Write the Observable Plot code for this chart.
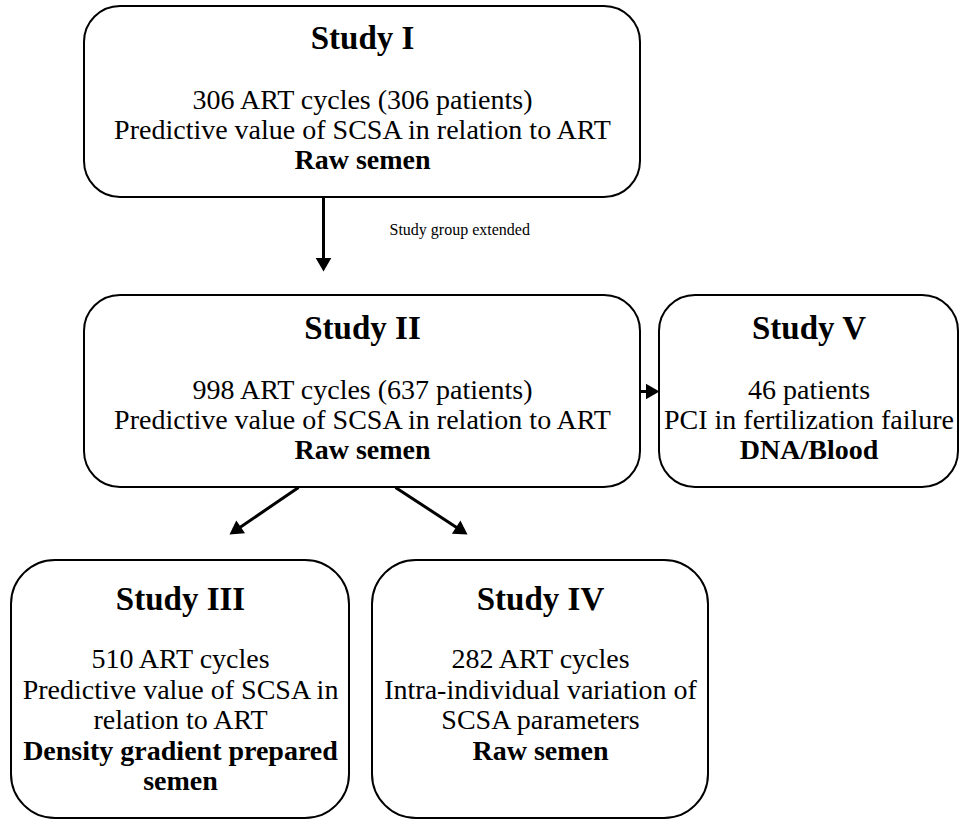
<!DOCTYPE html>
<html>
<head>
<meta charset="utf-8">
<script src="https://cdn.jsdelivr.net/npm/d3@7"></script>
<script src="https://cdn.jsdelivr.net/npm/@observablehq/plot@0.6"></script>
<style>
  html, body { margin: 0; padding: 0; background: #ffffff; }
  #chart svg { display: block; }
</style>
</head>
<body>
<div id="chart"></div>
<script>
// ---------- DATA (content only) ----------
const studies = ["Study I", "Study II", "Study III", "Study IV", "Study V"];
const detailLines = [
  ["306 ART cycles (306 patients)", "Predictive value of SCSA in relation to ART"],
  ["998 ART cycles (637 patients)", "Predictive value of SCSA in relation to ART"],
  ["510 ART cycles", "Predictive value of SCSA in", "relation to ART"],
  ["282 ART cycles", "Intra-individual variation of", "SCSA parameters"],
  ["46 patients", "PCI in fertilization failure"]
];
const materialLines = [
  ["Raw semen"],
  ["Raw semen"],
  ["Density gradient prepared", "semen"],
  ["Raw semen"],
  ["DNA/Blood"]
];
const linkFrom = ["Study I", "Study II", "Study II", "Study II"];
const linkTo = ["Study II", "Study V", "Study III", "Study IV"];
const linkLabels = ["Study group extended", "", "", ""];

// ---------- LAYOUT (pixel geometry, kept apart from data) ----------
const W = 961, H = 820;
const boxGeom = {
  "Study I":   {x1: 84,  x2: 640, y1: 6,   y2: 197, title: 38,  first: 100, step: 30},
  "Study II":  {x1: 84,  x2: 640, y1: 295, y2: 487, title: 328, first: 390, step: 30},
  "Study V":   {x1: 659, x2: 958, y1: 295, y2: 487, title: 328, first: 390, step: 30},
  "Study III": {x1: 11,  x2: 349, y1: 560, y2: 818, title: 599, first: 659, step: 30.5},
  "Study IV":  {x1: 372, x2: 708, y1: 560, y2: 818, title: 599, first: 659, step: 30.5}
};
// arrow anchor points: start and tip
const linkGeom = [
  {sx: 323, sy: 197, tx: 323, ty: 271},
  {sx: 640, sy: 391, tx: 659, ty: 391},
  {sx: 298, sy: 487, tx: 229, ty: 534},
  {sx: 395, sy: 487, tx: 467, ty: 534}
];
const font = "'Liberation Serif', 'Times New Roman', Times, serif";
const headR = 5.8;

// ---------- BUILD TABLES ----------
const boxes = studies.map(s => ({name: s, ...boxGeom[s]}));
const titles = boxes.map(b => ({text: b.name, x: (b.x1 + b.x2) / 2, y: b.title}));
const normalText = [], boldText = [];
studies.forEach((s, i) => {
  const b = boxGeom[s];
  const cx = (b.x1 + b.x2) / 2;
  let k = 0;
  detailLines[i].forEach(t => normalText.push({text: t, x: cx, y: b.first + b.step * k++}));
  materialLines[i].forEach(t => boldText.push({text: t, x: cx, y: b.first + b.step * k++}));
});
const links = linkFrom.map((f, i) => {
  const g = linkGeom[i];
  const dx = g.tx - g.sx, dy = g.ty - g.sy;
  const len = Math.hypot(dx, dy);
  const ux = dx / len, uy = dy / len;
  const headLen = headR * 2.33;
  const c = headR * 1.555; // centroid distance from tip
  return {
    from: f, to: linkTo[i], label: linkLabels[i],
    x1: g.sx, y1: g.sy,
    x2: g.tx - ux * (headLen - 1), y2: g.ty - uy * (headLen - 1),
    hx: g.tx - ux * c, hy: g.ty - uy * c,
    angle: Math.atan2(dx, -dy) * 180 / Math.PI
  };
});
const labels = links.filter(d => d.label).map(d => ({text: d.label, x: d.x1 + 66, y: 229}));

const topBoxes = boxes.filter(b => b.y2 < 600);
const bottomBoxes = boxes.filter(b => b.y2 >= 600);

const chart = Plot.plot({
  width: W,
  height: H,
  margin: 0,
  x: {domain: [0, W], range: [0, W], axis: null},
  y: {domain: [0, H], range: [0, H], axis: null},
  style: {background: "#ffffff"},
  marks: [
    Plot.rect(topBoxes, {x1: "x1", x2: "x2", y1: "y1", y2: "y2", rx: 36, ry: 36, fill: "#ffffff", stroke: "#000000", strokeWidth: 2}),
    Plot.rect(bottomBoxes, {x1: "x1", x2: "x2", y1: "y1", y2: "y2", rx: 44, ry: 44, fill: "#ffffff", stroke: "#000000", strokeWidth: 2}),
    Plot.link(links, {x1: "x1", y1: "y1", x2: "x2", y2: "y2", stroke: "#000000", strokeWidth: 3}),
    Plot.dot(links, {x: "hx", y: "hy", symbol: "triangle", r: headR, rotate: "angle", fill: "#000000", stroke: "none"}),
    Plot.text(titles, {x: "x", y: "y", text: "text", fontFamily: font, fontSize: 33, fontWeight: "bold", fill: "#000000", textAnchor: "middle"}),
    Plot.text(normalText, {x: "x", y: "y", text: "text", fontFamily: font, fontSize: 28, fill: "#000000", textAnchor: "middle"}),
    Plot.text(boldText, {x: "x", y: "y", text: "text", fontFamily: font, fontSize: 28, fontWeight: "bold", fill: "#000000", textAnchor: "middle"}),
    Plot.text(labels, {x: "x", y: "y", text: "text", fontFamily: font, fontSize: 16, fill: "#000000", textAnchor: "start"})
  ]
});
document.getElementById("chart").appendChild(chart);
</script>
</body>
</html>
